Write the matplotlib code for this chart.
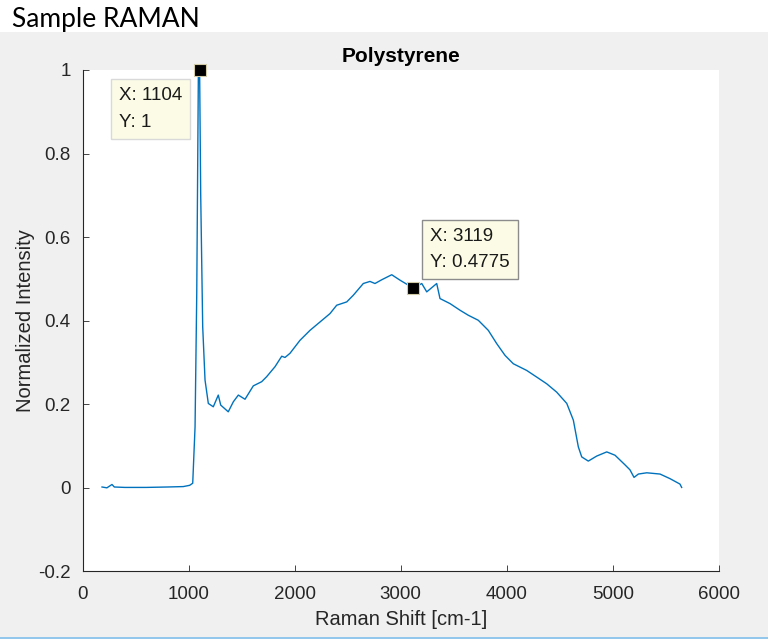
import matplotlib

matplotlib.use("Agg")
import matplotlib.pyplot as plt
from matplotlib.patches import Rectangle

# spectrum (Raman shift in cm-1, normalised intensity)
shift = [184, 230, 278, 300, 400, 600, 800, 950, 1010, 1039, 1061, 1077, 1092, 1104,
         1114, 1133, 1155, 1186, 1233, 1280, 1303, 1374, 1422, 1469, 1532, 1610, 1689,
         1736, 1815, 1878, 1909, 1956, 2050, 2145, 2239, 2333, 2396, 2491, 2553, 2647,
         2710, 2757, 2821, 2915, 2993, 3059, 3119, 3198, 3245, 3339, 3370, 3464, 3559,
         3637, 3731, 3825, 3905, 3983, 4061, 4187, 4282, 4376, 4470, 4565, 4627, 4674,
         4706, 4768, 4847, 4942, 5020, 5114, 5161, 5199, 5240, 5319, 5444, 5538, 5632,
         5648]
intensity = [0.002, 0.0, 0.008, 0.002, 0.001, 0.001, 0.002, 0.003, 0.006, 0.011, 0.146,
             0.466, 0.984, 1.0, 0.706, 0.386, 0.258, 0.202, 0.194, 0.222, 0.198, 0.182,
             0.206, 0.222, 0.212, 0.244, 0.254, 0.266, 0.290, 0.315, 0.312, 0.322, 0.353,
             0.377, 0.397, 0.417, 0.437, 0.445, 0.461, 0.489, 0.494, 0.489, 0.498, 0.510,
             0.497, 0.487, 0.4775, 0.489, 0.469, 0.489, 0.453, 0.441, 0.425, 0.413, 0.401,
             0.377, 0.345, 0.317, 0.297, 0.281, 0.265, 0.249, 0.229, 0.202, 0.162, 0.098,
             0.074, 0.064, 0.076, 0.086, 0.078, 0.055, 0.043, 0.025, 0.033, 0.036, 0.033,
             0.022, 0.009, 0.001]

# data tips
tip_x = [1104, 3119]
tip_y = [1.0, 0.4775]

xticks = [0, 1000, 2000, 3000, 4000, 5000, 6000]
yticks = [-0.2, 0, 0.2, 0.4, 0.6, 0.8, 1]
ytick_labels = ["-0.2", "0", "0.2", "0.4", "0.6", "0.8", "1"]

W, H = 768, 639
INK = "#262626"

plt.rcParams["font.family"] = ["Liberation Sans", "DejaVu Sans"]
fig = plt.figure(figsize=(W / 100, H / 100), dpi=100, facecolor="white")

# grey figure panel and thin blue rule at the bottom, kept behind the axes
fig.patches.append(Rectangle((0, 2 / H), 1, 605 / H, transform=fig.transFigure,
                             facecolor="#f0f0f0", edgecolor="none", zorder=-10))
fig.patches.append(Rectangle((0, 0), 1, 2 / H, transform=fig.transFigure,
                             facecolor="#93c8ec", edgecolor="none", zorder=-10))

fig.text(12 / W, 1 - 19 / H, "Sample RAMAN", fontsize=19, family=["Lato", "DejaVu Sans"],
         va="center", ha="left", color="black")

ax = fig.add_axes([82.5 / W, (H - 571.4) / H, (719 - 82.5) / W, (571.4 - 70) / H])
ax.plot(shift, intensity, color="#0072bd", lw=1.0)
ax.plot(tip_x, tip_y, "s", ms=8.5, mfc="black", mec="#d2cca8", mew=0.8,
        clip_on=False, zorder=5)

ax.set_xlim(0, 6000)
ax.set_ylim(-0.2, 1)
ax.set_xticks(xticks)
ax.set_yticks(yticks)
ax.set_yticklabels(ytick_labels)
for side in ("top", "right"):
    ax.spines[side].set_visible(False)
for side in ("left", "bottom"):
    ax.spines[side].set_color(INK)
    ax.spines[side].set_linewidth(0.8)
ax.tick_params(direction="in", length=4.3, width=0.6, colors=INK, labelsize=13.5)
ax.tick_params(axis="x", pad=10.5)
ax.tick_params(axis="y", pad=8.5)

ax.set_title("Polystyrene", fontsize=15, fontweight="bold", color="black", pad=6)
ax.set_xlabel("Raman Shift [cm-1]", fontsize=14.5, color=INK, labelpad=5)
ax.set_ylabel("Normalized Intensity", fontsize=14.5, color=INK, labelpad=2)

tip_style = [
    dict(xytext=(-17, -17), ha="right", va="top", ec="#d9d9d9"),
    dict(xytext=(17, 17), ha="left", va="bottom", ec="#8c8c8c"),
]
for x, y, st in zip(tip_x, tip_y, tip_style):
    ax.annotate(f"X: {x}\nY: {y:g}", xy=(x, y), xytext=st["xytext"],
                textcoords="offset pixels", ha=st["ha"], va=st["va"], fontsize=13.5,
                multialignment="left", color="#1a1a1a", linespacing=1.75, zorder=6,
                bbox=dict(boxstyle="square,pad=0.42", fc="#fcfce6", ec=st["ec"], lw=1))

fig.savefig("out.png", dpi=100, facecolor=fig.get_facecolor())
